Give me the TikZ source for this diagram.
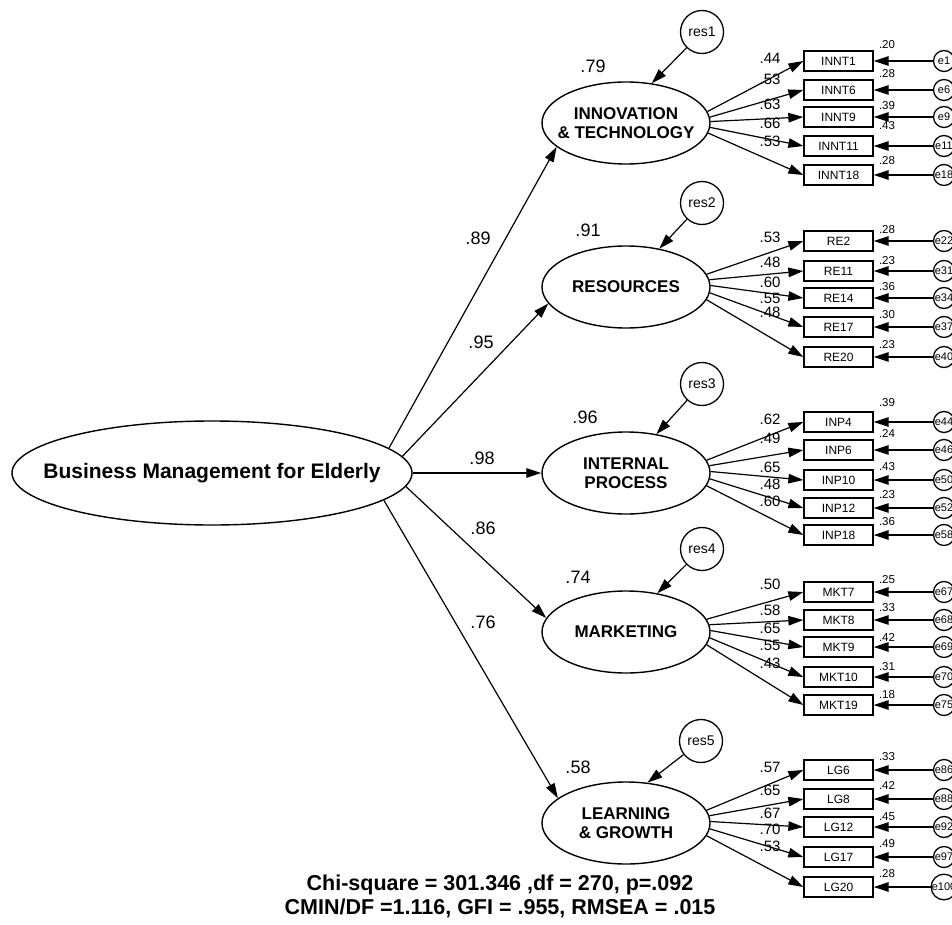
\documentclass[tikz,border=0pt]{standalone}
\usepackage{fontspec}
\setmainfont{Liberation Sans}
\usetikzlibrary{arrows.meta,shapes.geometric}
\begin{document}
\begin{tikzpicture}[x=1pt,y=-1pt,
  lat/.style={draw, ellipse, minimum width=168pt, minimum height=82pt, inner sep=0pt, line width=1.4pt},
  lattext/.style={font=\bfseries\fontsize{17}{19.5}\selectfont, align=center, inner sep=0pt},
  resc/.style={draw, circle, minimum size=43pt, inner sep=0pt, line width=1.3pt, font=\fontsize{14}{16}\selectfont},
  obs/.style={draw, rectangle, minimum width=69pt, minimum height=20pt, inner sep=0pt, line width=1.3pt, font=\fontsize{12}{14}\selectfont},
  errc/.style={draw, circle, minimum size=21pt, inner sep=0pt, line width=1.3pt, font=\fontsize{11}{13}\selectfont},
  arr/.style={-{Triangle[length=15pt,width=9.5pt]}, line width=1.2pt},
  big/.style={font=\fontsize{18}{20}\selectfont, inner sep=0pt},
  ld/.style={font=\fontsize{15}{17}\selectfont, inner sep=0pt},
  varl/.style={font=\fontsize{11.5}{13}\selectfont, inner sep=0pt}]
\useasboundingbox (0,0) rectangle (952,925);

% main latent
\node[draw, ellipse, minimum width=400pt, minimum height=104pt, inner sep=0pt, line width=1.4pt] (main) at (212,473) {};
\node[font=\bfseries\fontsize{21}{24}\selectfont, inner sep=0pt] (mainT) at (212,473) {Business Management for Elderly};

% first-order latents
\node[lat] (inno) at (626,123) {};
\node[lattext] (innoT) at (626,123) {INNOVATION\\\& TECHNOLOGY};
\node[lat] (res) at (626,287) {};
\node[lattext] (resT) at (626,287) {RESOURCES};
\node[lat] (inp) at (626,473) {};
\node[lattext] (inpT) at (626,473) {INTERNAL\\PROCESS};
\node[lat] (mkt) at (626,632) {};
\node[lattext] (mktT) at (626,632) {MARKETING};
\node[lat] (lg) at (626,823) {};
\node[lattext] (lgT) at (626,823) {LEARNING\\\& GROWTH};

% residuals
\node[resc] (res1) at (702,32) {res1};
\node[resc] (res2) at (702,203) {res2};
\node[resc] (res3) at (702,384) {res3};
\node[resc] (res4) at (702,549) {res4};
\node[resc] (res5) at (701,741) {res5};
\draw[arr] (res1) -- (inno.57);
\draw[arr] (res2) -- (res.49);
\draw[arr] (res3) -- (inp.52);
\draw[arr] (res4) -- (mkt.51);
\draw[arr] (res5) -- (lg.62);

% R^2 labels
\node[big] (r1) at (593,66) {.79};
\node[big] (r2) at (588,230) {.91};
\node[big] (r3) at (585,417) {.96};
\node[big] (r4) at (578,577) {.74};
\node[big] (r5) at (578,767) {.58};

% structural paths
\draw[arr] (main.8) -- (inno.199);
\draw[arr] (main.5) -- (res.192);
\draw[arr] (main.0) -- (inp.180);
\draw[arr] (main.356) -- (mkt.170);
\draw[arr] (main.351) -- (lg.160);
\node[big] (p1) at (478,238) {.89};
\node[big] (p2) at (481,342) {.95};
\node[big] (p3) at (482,458) {.98};
\node[big] (p4) at (483,528) {.86};
\node[big] (p5) at (483,622) {.76};

% indicators
\foreach \g/\nm/\yy/\ang/\ev/\vl/\vy/\ll/\ly in {
  inno/INNT1/61/8/e1/.20/45/.44/58,
  inno/INNT6/90/4/e6/.28/74/.53/79,
  inno/INNT9/117/1/e9/.39/106/.63/104,
  inno/INNT11/146/357/e11/.43/126/.66/123,
  inno/INNT18/175/353/e18/.28/161/.53/141,
  res/RE2/241/9/e22/.28/230/.53/237,
  res/RE11/271/5/e31/.23/261/.48/262,
  res/RE14/298/1/e34/.36/287/.60/282,
  res/RE17/327/356/e37/.30/315/.55/298,
  res/RE20/357/351/e40/.23/345/.48/312,
  inp/INP4/422/9/e44/.39/403/.62/419,
  inp/INP6/450/5/e46/.24/433/.49/438,
  inp/INP10/480/1/e50/.43/467/.65/467,
  inp/INP12/508/356/e52/.23/495/.48/484,
  inp/INP18/535/351/e58/.36/522/.60/501,
  mkt/MKT7/592/9/e67/.25/580/.50/584,
  mkt/MKT8/620/5/e68/.33/608/.58/610,
  mkt/MKT9/647/1/e69/.42/637/.65/628,
  mkt/MKT10/677/356/e70/.31/667/.55/645,
  mkt/MKT19/705/351/e75/.18/695/.43/663,
  lg/LG6/770/9/e86/.33/757/.57/767,
  lg/LG8/799/5/e88/.42/785/.65/790,
  lg/LG12/827/1/e92/.45/817/.67/813,
  lg/LG17/857/356/e97/.49/844/.70/829,
  lg/LG20/887/351/e100/.28/874/.53/846} {
  \node[obs] (\nm) at (838.5,\yy) {\nm};
  \node[errc] (err\nm) at (944,\yy) {\ev};
  \draw[arr] (err\nm) -- (\nm.east);
  \draw[arr] (\g.\ang) -- (\nm.west);
  \node[varl] (v\nm) at (887,\vy) {\vl};
  \node[ld] (l\nm) at (770,\ly) {\ll};
}

% fit statistics
\node[font=\bfseries\fontsize{21.5}{24}\selectfont, align=center, inner sep=0pt] (fit) at (500,896)
  {Chi-square = 301.346 ,df = 270, p=.092\\CMIN/DF =1.116, GFI = .955, RMSEA = .015};
\end{tikzpicture}
\end{document}
